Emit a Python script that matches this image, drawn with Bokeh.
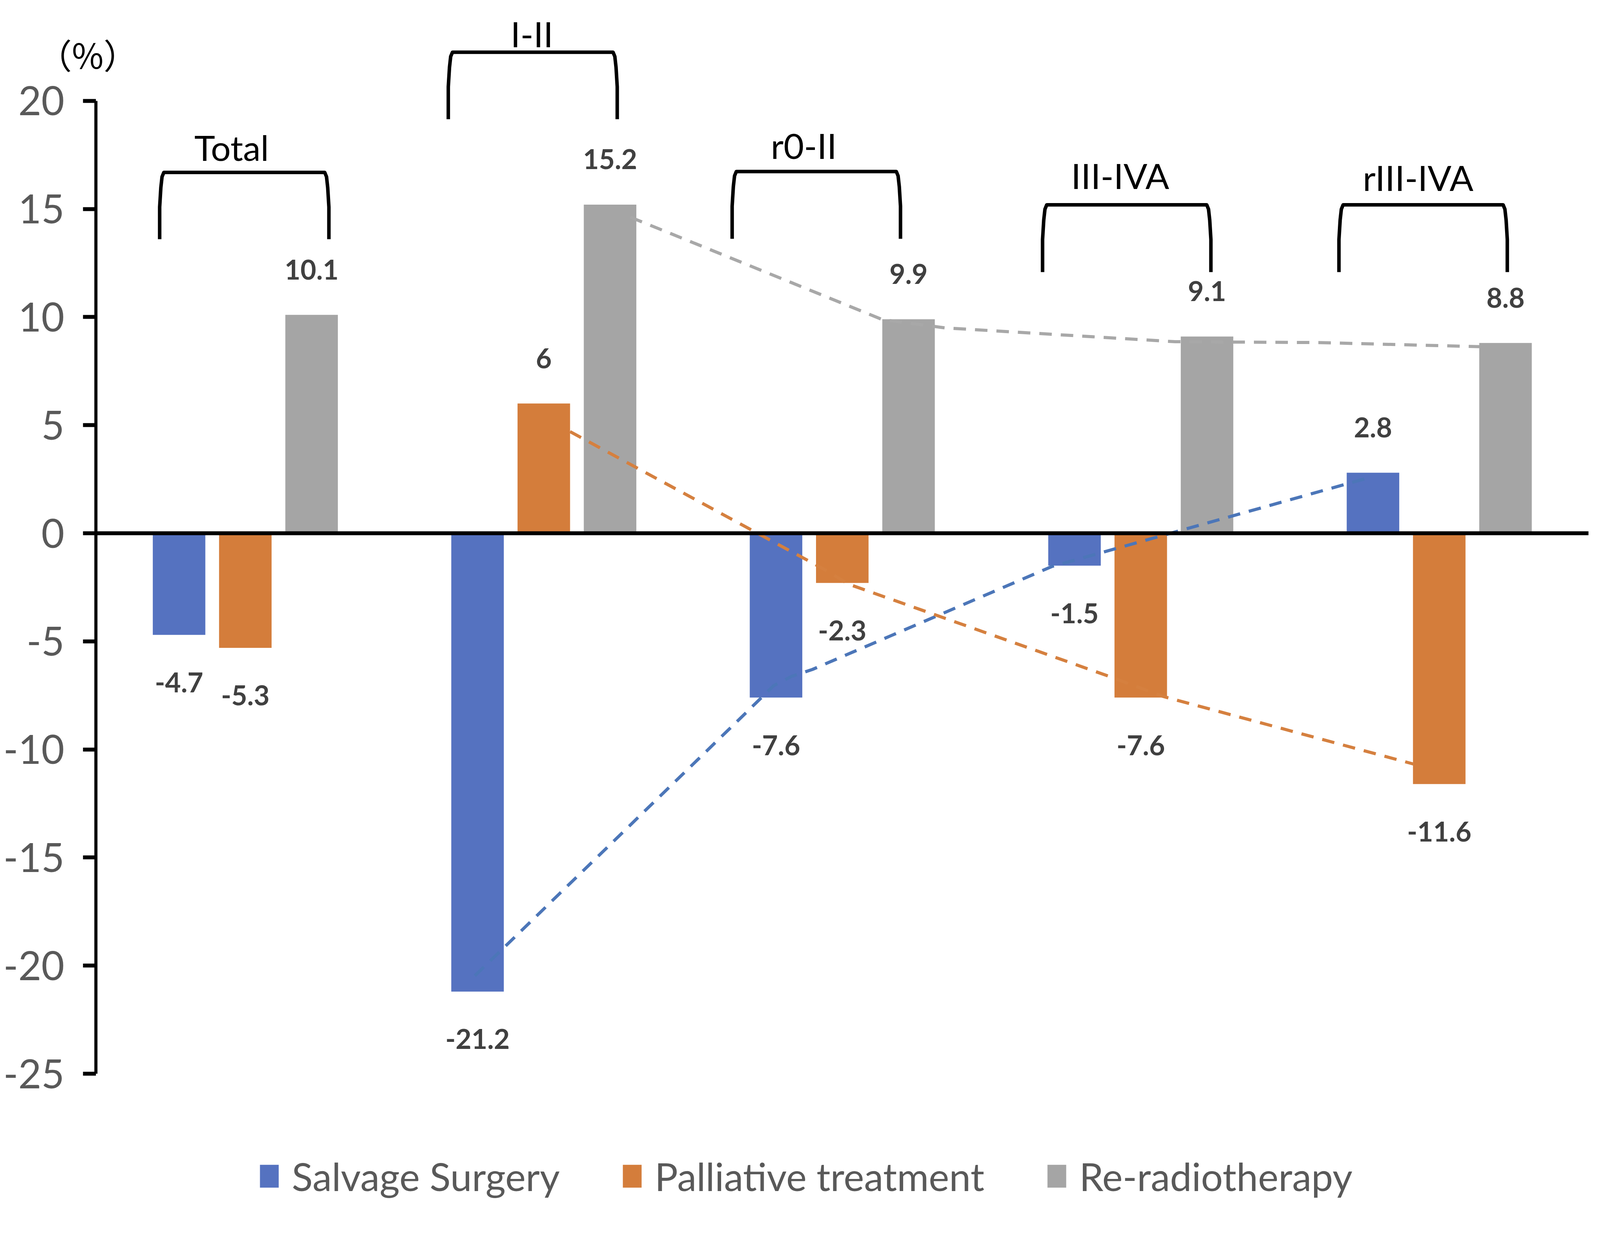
from bokeh.plotting import figure
from bokeh.models import Range1d, FixedTicker, Legend, LegendItem
from bokeh.core.properties import value
from bokeh.embed import file_html
from bokeh.resources import INLINE

# values (change in %)
groups = ["Total", "I-II", "r0-II", "III-IVA", "rIII-IVA"]
salvage = [-4.7, -21.2, -7.6, -1.5, 2.8]
palliative = [-5.3, 6, -2.3, -7.6, -11.6]
reradio = [10.1, 15.2, 9.9, 9.1, 8.8]
series_names = ["Salvage Surgery", "Palliative treatment", "Re-radiotherapy"]

y_ticks = [20, 15, 10, 5, 0, -5, -10, -15, -20, -25]
y_tick_labels = ["20", "15", "10", "5", "0", "-5", "-10", "-15", "-20", "-25"]

# brackets drawn over each group (x in group units, y in %)
bracket_left = [0.213, 1.180, 2.131, 3.171, 4.164]
bracket_right = [0.780, 1.746, 2.695, 3.735, 4.728]
bracket_top = [16.69, 22.25, 16.73, 15.19, 15.19]
bracket_foot = [13.60, 19.15, 13.62, 12.08, 12.08]
group_label_x = [0.454, 1.460, 2.371, 3.431, 4.429]
group_label_y = [17.85, 23.12, 17.94, 16.55, 16.47]

# dashed trend lines drawn by hand across the groups
salvage_trend_x = [1.269, 2.154, 2.27, 2.33, 2.40, 3.202, 4.267]
salvage_trend_y = [-20.47, -8.62, -7.05, -6.62, -6.30, -1.54, 2.58]
palliative_trend_x = [1.588, 2.45, 2.52, 3.40, 3.575, 4.415]
palliative_trend_y = [4.70, -1.75, -2.35, -6.65, -7.55, -10.68]
reradio_trend_x = [1.79, 2.635, 2.844, 3.615, 4.095, 4.636]
reradio_trend_y = [14.62, 9.88, 9.50, 8.86, 8.82, 8.63]

colors = ["#5572C0", "#D47D3B", "#A5A5A5"]
trend_colors = ["#4C76B8", "#D5803F", "#A8A8A8"]

# the page that gets photographed is about 4116 px wide and 3183 px high
SX = 4116 / 5050
W, H = 4100, 3167
# one x unit = one group = 937.5 px of the original, one y unit = 55.36 px
x0 = (8 / SX - 311) / 937.5
x1 = ((8 + W) / SX - 311) / 937.5
y1 = (1373 - 8) / 55.36
y0 = -((8 + H) - 1373) / 55.36

FONT = value("Lato")

p = figure(width=W, height=H, output_backend="svg", toolbar_location=None,
           x_range=Range1d(x0, x1), y_range=Range1d(y0, y1), tools="")
p.min_border = 0
p.outline_line_color = None
p.grid.visible = False
p.background_fill_color = "white"

# y axis drawn at the left of the first group
ax = p.yaxis[0]
ax.fixed_location = 0
ax.ticker = FixedTicker(ticks=y_ticks)
ax.major_label_overrides = {t: s for t, s in zip(y_ticks, y_tick_labels)}
ax.bounds = (-25, 20)
ax.axis_line_width = 8
ax.axis_line_color = "black"
ax.major_tick_line_width = 10
ax.major_tick_line_color = "black"
ax.major_tick_out = 33
ax.major_tick_in = 0
ax.minor_tick_line_color = None
ax.major_label_standoff = 48
ax.major_label_text_font = "Lato"
ax.major_label_text_font_size = "102px"
ax.major_label_text_color = "#595959"

# x axis kept only as the zero line
xa = p.xaxis[0]
xa.fixed_location = 0
xa.bounds = (0, 5)
xa.ticker = FixedTicker(ticks=[])
xa.axis_line_width = 10
xa.axis_line_color = "black"
xa.major_tick_line_color = None
xa.minor_tick_line_color = None
xa.major_label_text_color = None

# bars
centers = [i + 0.5 for i in range(len(groups))]
offsets = [-0.222, 0.0, 0.222]
renderers = []
for vals, off, col in zip([salvage, palliative, reradio], offsets, colors):
    r = p.vbar(x=[c + off for c in centers], top=vals, bottom=0, width=0.176,
               fill_color=col, line_color=None)
    renderers.append(r)

# group names, then the brackets under them
p.text(x=group_label_x, y=group_label_y, text=groups, text_font=FONT,
       text_font_size="90px", text_font_style="normal", text_color="#000000",
       text_align="center", text_baseline="middle")
br_xs, br_ys = [], []
for xl, xr, yt, yb in zip(bracket_left, bracket_right, bracket_top, bracket_foot):
    br_xs.append([xl, xl, xl + 0.004, xl + 0.008, xl + 0.014,
                  xr - 0.014, xr - 0.008, xr - 0.004, xr, xr])
    br_ys.append([yb, yt - 1.6, yt - 0.7, yt - 0.2, yt,
                  yt, yt - 0.2, yt - 0.7, yt - 1.6, yb])
p.multi_line(br_xs, br_ys, line_color="black", line_width=9, line_join="round")

# dashed links
for xs, ys, col in zip([salvage_trend_x, palliative_trend_x, reradio_trend_x],
                       [salvage_trend_y, palliative_trend_y, reradio_trend_y], trend_colors):
    p.line(xs, ys, line_color=col, line_width=8, line_dash="32 23")

# value labels
for vals, off in zip([salvage, palliative, reradio], offsets):
    lx = [c + off for c in centers]
    ly = [v + 2.1 if v > 0 else v - 2.2 for v in vals]
    txt = [f"{v:g}" for v in vals]
    p.text(x=lx, y=ly, text=txt, text_font=FONT, text_font_size="70px",
           text_font_style="bold", text_color="#404040",
           text_align="center", text_baseline="middle")

# unit label
p.text(x=[-0.028], y=[22.18], text=["（%）"], text_font=value("Noto Sans CJK JP"),
       text_font_size="88px", text_color="#000000",
       text_align="center", text_baseline="middle")

legend = Legend(items=[LegendItem(label=n, renderers=[r]) for n, r in zip(series_names, renderers)],
                orientation="horizontal", location=(round(818 * SX) - 8, 96),
                glyph_width=60, glyph_height=73, label_standoff=28, spacing=155,
                padding=0, margin=0, border_line_color=None, background_fill_alpha=0,
                label_text_font="Lato", label_text_font_size="99px",
                label_text_color="#595959")
p.add_layout(legend)

open("out.html", "w").write(file_html(p, INLINE))
